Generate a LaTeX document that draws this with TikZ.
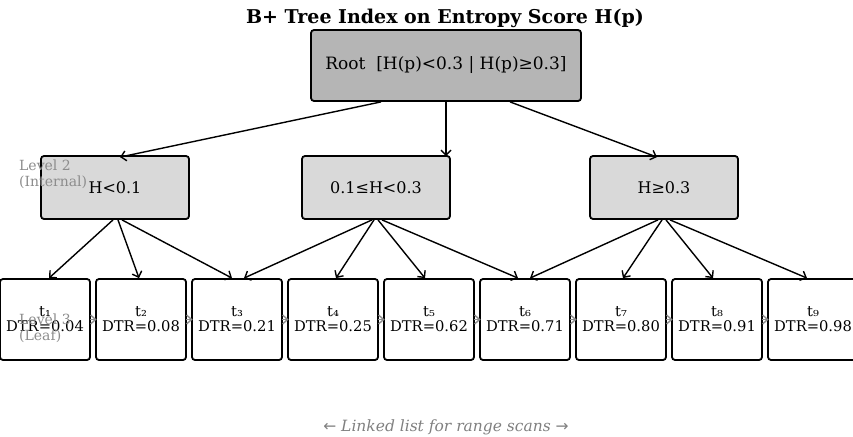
\documentclass[tikz,border=0pt]{standalone}
\usepackage{fontspec}
\setmainfont{DejaVu Serif}
\newfontfamily\symfont{DejaVu Sans}
\usetikzlibrary{arrows.meta,positioning}

\begin{document}
\begin{tikzpicture}[
  x=1pt, y=-1pt,
  node distance=4.2pt,
  box/.style={draw, rounded corners=3pt, line width=1.8pt, align=center, inner sep=0pt},
  rootbox/.style={box, fill=black!29, minimum width=270pt, minimum height=71pt, font=\fontsize{17}{20}\selectfont},
  innerbox/.style={box, fill=black!15, minimum width=148pt, minimum height=63pt, font=\fontsize{16}{19}\selectfont},
  leaf/.style={box, fill=white, minimum width=90pt, minimum height=81pt, font=\fontsize{14.7}{15}\selectfont},
  edge/.style={-{Straight Barb[length=5pt,width=10pt]}, line width=1.4pt},
  link/.style={-{Straight Barb[length=5pt,width=9pt]}, line width=1.4pt, black!45, shorten >=-1.5pt, shorten <=-1pt},
  lvl/.style={black!45, align=left, anchor=north west, inner sep=0pt, font=\fontsize{14}{16}\selectfont}
]
\useasboundingbox (0,0) rectangle (853,436);
\clip (0,0) rectangle (853,436);

\node[font=\bfseries\fontsize{19}{22}\selectfont] (title) at (445,18) {B+ Tree Index on Entropy Score H(p)};

\node[rootbox] (root) at (446,65.5) {Root\ \ [H(p)<0.3 | H(p)≥0.3]};

\node[innerbox] (lowH) at (115,187.5) {H<0.1};
\node[innerbox] (midH) at (376,187.5) {0.1≤H<0.3};
\node[innerbox] (highH) at (664,187.5) {H≥0.3};

\node[leaf] (t1) at (45,319.5) {t₁\\DTR=0.04};
\node[leaf, right=of t1] (t2) {t₂\\DTR=0.08};
\node[leaf, right=of t2] (t3) {t₃\\DTR=0.21};
\node[leaf, right=of t3] (t4) {t₄\\DTR=0.25};
\node[leaf, right=of t4] (t5) {t₅\\DTR=0.62};
\node[leaf, right=of t5] (t6) {t₆\\DTR=0.71};
\node[leaf, right=of t6] (t7) {t₇\\DTR=0.80};
\node[leaf, right=of t7] (t8) {t₈\\DTR=0.91};
\node[leaf, right=of t8] (t9) {t₉\\DTR=0.98};

% root to internal nodes
\draw[edge] ([xshift=-65pt]root.south) -- ([xshift=5pt,yshift=-2pt]lowH.north);
\draw[edge] (root.south) -- ([xshift=70pt,yshift=-1pt]midH.north);
\draw[edge] ([xshift=64pt]root.south) -- ([xshift=-7pt,yshift=-2pt]highH.north);

% internal nodes to leaves
\draw[edge] ([xshift=-2pt]lowH.south) -- ([xshift=4pt]t1.north);
\draw[edge] ([xshift=3pt]lowH.south) -- ([xshift=-2pt]t2.north);
\draw[edge] ([xshift=7pt]lowH.south) -- ([xshift=-5pt]t3.north);
\draw[edge] ([xshift=-4pt]midH.south) -- ([xshift=7pt]t3.north);
\draw[edge] ([xshift=-2pt]midH.south) -- ([xshift=3pt]t4.north);
\draw[edge] ([xshift=2pt]midH.south) -- ([xshift=-4pt]t5.north);
\draw[edge] ([xshift=6pt]midH.south) -- ([xshift=-7pt]t6.north);
\draw[edge] ([xshift=-6pt]highH.south) -- ([xshift=5pt]t6.north);
\draw[edge] ([xshift=-2pt]highH.south) -- ([xshift=2pt]t7.north);
\draw[edge] ([xshift=2pt]highH.south) -- ([xshift=-4pt]t8.north);
\draw[edge] ([xshift=6pt]highH.south) -- ([xshift=-6pt]t9.north);

% leaf chain
\draw[link] (t1) -- (t2);
\draw[link] (t2) -- (t3);
\draw[link] (t3) -- (t4);
\draw[link] (t4) -- (t5);
\draw[link] (t5) -- (t6);
\draw[link] (t6) -- (t7);
\draw[link] (t7) -- (t8);
\draw[link] (t8) -- (t9);

\node[lvl] (lvlTwo) at (19,160) {Level 2\\(Internal)};
\node[lvl] (lvlThree) at (19,314) {Level 3\\(Leaf)};

\node[black!50, font=\itshape\fontsize{15.5}{18}\selectfont] (scan) at (446,427) {{\symfont ←} Linked list for range scans {\symfont →}};
\end{tikzpicture}
\end{document}
